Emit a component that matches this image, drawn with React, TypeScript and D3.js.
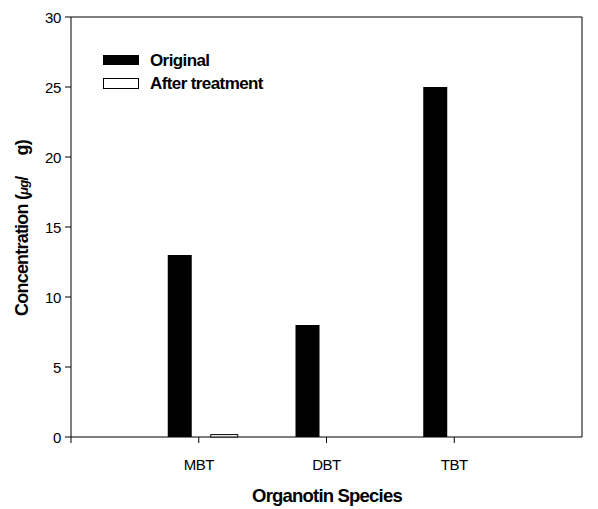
import React from "react";
import * as d3 from "d3";

const categories = ["MBT", "DBT", "TBT"];
const originalValues = [13, 8, 25];
const afterValues = [0.1, 0, 0];
const yTicks = [0, 5, 10, 15, 20, 25, 30];
const seriesNames = ["Original", "After treatment"];

export default function App() {
  const W = 598, H = 509;
  const left = 71, right = 582, top = 17, bottom = 437;
  const x = d3.scaleLinear().domain([0, 4]).range([left, right]);
  const y = d3.scaleLinear().domain([0, 30]).range([bottom, top]);
  const font = "'Liberation Sans', Arial, sans-serif";
  const barW = 24;
  const afterW = 27;

  return (
    <svg width={W} height={H} style={{ position: "absolute", left: 0, top: 0, background: "#fff" }}>
      <rect x={0} y={0} width={W} height={H} fill="#fff" />
      <path d={`M${left},${top}H${right}V${bottom}H${left}Z`} fill="none" stroke="#000" strokeWidth={1} />
      {categories.map((c, i) => {
        const cx = x(i + 1);
        return (
          <g key={c}>
            <rect x={cx - 31} y={y(originalValues[i])} width={barW} height={y(0) - y(originalValues[i])} fill="#000" />
            {afterValues[i] > 0 && (
              <rect x={cx + 12} y={y(afterValues[i]) - 1} width={afterW} height={y(0) - y(afterValues[i]) + 1} fill="#fff" stroke="#000" strokeWidth={1} />
            )}
          </g>
        );
      })}
      {yTicks.map((t) => (
        <g key={t}>
          <line x1={left - 6} x2={left} y1={y(t)} y2={y(t)} stroke="#000" />
          <text x={left - 10} y={y(t) + 5.5} textAnchor="end" fontFamily={font} fontSize={15} fill="#000" letterSpacing={-0.3}>{t}</text>
        </g>
      ))}
      <line x1={x(0)} x2={x(0)} y1={bottom} y2={bottom + 6} stroke="#000" />
      {categories.map((c, i) => (
        <g key={c}>
          <line x1={x(i + 1)} x2={x(i + 1)} y1={bottom} y2={bottom + 6} stroke="#000" />
          <text x={x(i + 1)} y={470} textAnchor="middle" fontFamily={font} fontSize={15} fill="#000" letterSpacing={-0.5}>{c}</text>
        </g>
      ))}
      <text x={327} y={502} textAnchor="middle" fontFamily={font} fontSize={18.5} fontWeight="bold" fill="#000" letterSpacing={-0.8}>Organotin Species</text>
      <text transform={`translate(28,228) rotate(-90)`} textAnchor="middle" fontFamily={font} fontSize={18} fontWeight="bold" fill="#000" letterSpacing={-0.8}>
        Concentration (<tspan fontStyle="italic" fontSize={13}>μg</tspan>/{"\u00a0\u00a0\u00a0\u00a0\u00a0"}g)
      </text>
      <rect x={103} y={55} width={36} height={10} fill="#000" />
      <text x={150} y={66} fontFamily={font} fontSize={17} fontWeight="bold" fill="#000" letterSpacing={-0.6}>{seriesNames[0]}</text>
      <rect x={103.5} y={78.5} width={35} height={10} fill="#fff" stroke="#000" />
      <text x={150} y={89} fontFamily={font} fontSize={17} fontWeight="bold" fill="#000" letterSpacing={-0.6}>{seriesNames[1]}</text>
    </svg>
  );
}
